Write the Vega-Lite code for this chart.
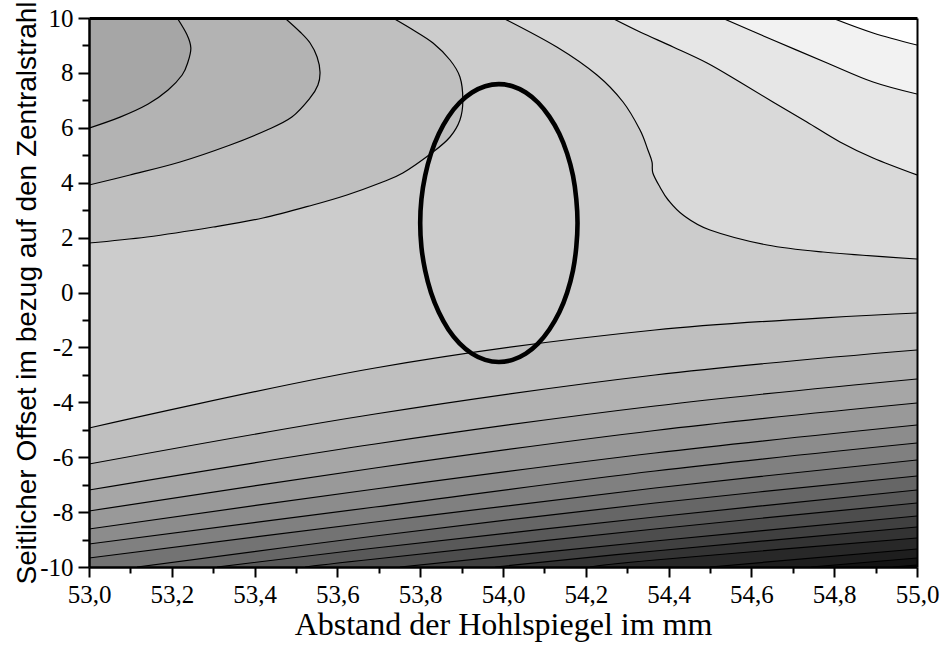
{
  "$schema": "https://vega.github.io/schema/vega-lite/v6.json",
  "width": 828,
  "height": 549,
  "autosize": "none",
  "padding": {"left": 89, "top": 18, "right": 28, "bottom": 86},
  "background": "white",
  "config": {"font": "Liberation Serif", "view": {"stroke": null, "fill": "#cccccc"}, "axis": {"grid": false, "labelFont": "Liberation Serif", "labelFontSize": 25, "labelColor": "black"}, "style": {"guide-label": {"font": "Liberation Serif", "fontSize": 25, "fill": "black"}}},
  "datasets": {
    "cont": [
      {"id":"U1","o":1,"x":53.0,"y":5.99},{"id":"U1","o":2,"x":53.075,"y":6.39},{"id":"U1","o":3,"x":53.143,"y":6.867},{"id":"U1","o":4,"x":53.191,"y":7.377},{"id":"U1","o":5,"x":53.225,"y":7.923},{"id":"U1","o":6,"x":53.239,"y":8.397},{"id":"U1","o":7,"x":53.246,"y":8.907},{"id":"U1","o":8,"x":53.237,"y":9.381},{"id":"U1","o":9,"x":53.213,"y":10},
      {"id":"U2","o":1,"x":53.0,"y":3.916},{"id":"U2","o":2,"x":53.099,"y":4.281},{"id":"U2","o":3,"x":53.22,"y":4.754},{"id":"U2","o":4,"x":53.341,"y":5.373},{"id":"U2","o":5,"x":53.43,"y":5.92},{"id":"U2","o":6,"x":53.49,"y":6.393},{"id":"U2","o":7,"x":53.534,"y":7.086},{"id":"U2","o":8,"x":53.553,"y":7.559},{"id":"U2","o":9,"x":53.558,"y":8.033},{"id":"U2","o":10,"x":53.551,"y":8.579},{"id":"U2","o":11,"x":53.534,"y":9.089},{"id":"U2","o":12,"x":53.51,"y":9.49},{"id":"U2","o":13,"x":53.473,"y":10},
      {"id":"U3","o":1,"x":53.0,"y":1.803},{"id":"U3","o":2,"x":53.14,"y":2.022},{"id":"U3","o":3,"x":53.3,"y":2.386},{"id":"U3","o":4,"x":53.42,"y":2.714},{"id":"U3","o":5,"x":53.541,"y":3.188},{"id":"U3","o":6,"x":53.623,"y":3.552},{"id":"U3","o":7,"x":53.703,"y":3.989},{"id":"U3","o":8,"x":53.758,"y":4.353},{"id":"U3","o":9,"x":53.831,"y":5.118},{"id":"U3","o":10,"x":53.872,"y":5.665},{"id":"U3","o":11,"x":53.896,"y":6.284},{"id":"U3","o":12,"x":53.903,"y":7.013},{"id":"U3","o":13,"x":53.896,"y":7.851},{"id":"U3","o":14,"x":53.872,"y":8.47},{"id":"U3","o":15,"x":53.831,"y":9.089},{"id":"U3","o":16,"x":53.783,"y":9.563},{"id":"U3","o":17,"x":53.734,"y":10},
      {"id":"R1","o":1,"x":54.0,"y":10},{"id":"R1","o":2,"x":54.13,"y":8.944},{"id":"R1","o":3,"x":54.227,"y":7.923},{"id":"R1","o":4,"x":54.29,"y":6.94},{"id":"R1","o":5,"x":54.331,"y":5.92},{"id":"R1","o":6,"x":54.35,"y":5.191},{"id":"R1","o":7,"x":54.36,"y":4.754},{"id":"R1","o":8,"x":54.362,"y":4.353},{"id":"R1","o":9,"x":54.379,"y":3.843},{"id":"R1","o":10,"x":54.399,"y":3.37},{"id":"R1","o":11,"x":54.435,"y":2.823},{"id":"R1","o":12,"x":54.5,"y":2.277},{"id":"R1","o":13,"x":54.638,"y":1.73},{"id":"R1","o":14,"x":54.773,"y":1.475},{"id":"R1","o":15,"x":55.0,"y":1.22},
      {"id":"R2","o":1,"x":54.263,"y":10},{"id":"R2","o":2,"x":54.331,"y":9.49},{"id":"R2","o":3,"x":54.411,"y":8.944},{"id":"R2","o":4,"x":54.493,"y":8.361},{"id":"R2","o":5,"x":54.572,"y":7.668},{"id":"R2","o":6,"x":54.652,"y":6.94},{"id":"R2","o":7,"x":54.734,"y":6.211},{"id":"R2","o":8,"x":54.814,"y":5.483},{"id":"R2","o":9,"x":54.894,"y":4.9},{"id":"R2","o":10,"x":55.0,"y":4.281},
      {"id":"R3","o":1,"x":54.529,"y":10},{"id":"R3","o":2,"x":54.652,"y":9.199},{"id":"R3","o":3,"x":54.783,"y":8.361},{"id":"R3","o":4,"x":54.894,"y":7.668},{"id":"R3","o":5,"x":55.0,"y":7.231},
      {"id":"R4","o":1,"x":54.795,"y":10},{"id":"R4","o":2,"x":54.894,"y":9.454},{"id":"R4","o":3,"x":55.0,"y":9.016},
      {"id":"L1","o":1,"x":53.0,"y":-4.936},{"id":"L1","o":2,"x":53.691,"y":-2.75},{"id":"L1","o":3,"x":54.367,"y":-1.366},{"id":"L1","o":4,"x":55.0,"y":-0.747},
      {"id":"L2","o":1,"x":53.0,"y":-6.248},{"id":"L2","o":2,"x":53.691,"y":-4.426},{"id":"L2","o":3,"x":54.367,"y":-3.005},{"id":"L2","o":4,"x":55.0,"y":-2.095},
      {"id":"L3","o":1,"x":53.0,"y":-7.195},{"id":"L3","o":2,"x":53.691,"y":-5.519},{"id":"L3","o":3,"x":54.367,"y":-4.135},{"id":"L3","o":4,"x":55.0,"y":-3.151},
      {"id":"L4","o":1,"x":53.0,"y":-7.96},{"id":"L4","o":2,"x":53.691,"y":-6.393},{"id":"L4","o":3,"x":54.367,"y":-5.027},{"id":"L4","o":4,"x":55.0,"y":-4.026},
      {"id":"L5","o":1,"x":53.0,"y":-8.616},{"id":"L5","o":2,"x":53.691,"y":-7.158},{"id":"L5","o":3,"x":54.367,"y":-5.847},{"id":"L5","o":4,"x":55.0,"y":-4.827},
      {"id":"L6","o":1,"x":53.0,"y":-9.162},{"id":"L6","o":2,"x":53.691,"y":-7.814},{"id":"L6","o":3,"x":54.367,"y":-6.503},{"id":"L6","o":4,"x":55.0,"y":-5.483},
      {"id":"L7","o":1,"x":53.0,"y":-9.672},{"id":"L7","o":2,"x":53.691,"y":-8.361},{"id":"L7","o":3,"x":54.367,"y":-7.122},{"id":"L7","o":4,"x":55.0,"y":-6.102},
      {"id":"L8","o":1,"x":53.116,"y":-10},{"id":"L8","o":2,"x":53.691,"y":-8.871},{"id":"L8","o":3,"x":54.367,"y":-7.668},{"id":"L8","o":4,"x":55.0,"y":-6.685},
      {"id":"L9","o":1,"x":53.309,"y":-10},{"id":"L9","o":2,"x":53.691,"y":-9.308},{"id":"L9","o":3,"x":54.367,"y":-8.179},{"id":"L9","o":4,"x":55.0,"y":-7.195},
      {"id":"L10","o":1,"x":53.522,"y":-10},{"id":"L10","o":2,"x":53.691,"y":-9.709},{"id":"L10","o":3,"x":54.367,"y":-8.616},{"id":"L10","o":4,"x":55.0,"y":-7.668},
      {"id":"L11","o":1,"x":53.751,"y":-10},{"id":"L11","o":2,"x":54.367,"y":-9.053},{"id":"L11","o":3,"x":55.0,"y":-8.142},
      {"id":"L12","o":1,"x":53.981,"y":-10},{"id":"L12","o":2,"x":54.367,"y":-9.417},{"id":"L12","o":3,"x":55.0,"y":-8.543},
      {"id":"L13","o":1,"x":54.21,"y":-10},{"id":"L13","o":2,"x":54.367,"y":-9.745},{"id":"L13","o":3,"x":55.0,"y":-8.944},
      {"id":"L14","o":1,"x":54.5,"y":-10},{"id":"L14","o":2,"x":55.0,"y":-9.344},
      {"id":"L15","o":1,"x":54.744,"y":-10},{"id":"L15","o":2,"x":55.0,"y":-9.672},
      {"id":"L16","o":1,"x":54.942,"y":-10},{"id":"L16","o":2,"x":55.0,"y":-9.927}
    ],
    "ell": [
      {"o":0,"x":54.18,"y":2.53},{"o":1,"x":54.177,"y":3.408},{"o":2,"x":54.169,"y":4.261},{"o":3,"x":54.155,"y":5.06},{"o":4,"x":54.136,"y":5.783},{"o":5,"x":54.112,"y":6.406},{"o":6,"x":54.085,"y":6.912},{"o":7,"x":54.055,"y":7.285},{"o":8,"x":54.023,"y":7.513},{"o":9,"x":53.99,"y":7.59},{"o":10,"x":53.957,"y":7.513},{"o":11,"x":53.925,"y":7.285},{"o":12,"x":53.895,"y":6.912},{"o":13,"x":53.868,"y":6.406},{"o":14,"x":53.845,"y":5.783},{"o":15,"x":53.826,"y":5.06},{"o":16,"x":53.812,"y":4.261},{"o":17,"x":53.803,"y":3.408},{"o":18,"x":53.8,"y":2.53},{"o":19,"x":53.803,"y":1.652},{"o":20,"x":53.812,"y":0.799},{"o":21,"x":53.826,"y":0.0},{"o":22,"x":53.845,"y":-0.723},{"o":23,"x":53.868,"y":-1.346},{"o":24,"x":53.895,"y":-1.852},{"o":25,"x":53.925,"y":-2.225},{"o":26,"x":53.957,"y":-2.453},{"o":27,"x":53.99,"y":-2.53},{"o":28,"x":54.023,"y":-2.453},{"o":29,"x":54.055,"y":-2.225},{"o":30,"x":54.085,"y":-1.852},{"o":31,"x":54.112,"y":-1.346},{"o":32,"x":54.136,"y":-0.723},{"o":33,"x":54.155,"y":0.0},{"o":34,"x":54.169,"y":0.799},{"o":35,"x":54.177,"y":1.652}
    ]
  },
  "layer": [
    {
      "encoding": {
        "x": {"field": "x", "type": "quantitative", "stack": null, "scale": {"domain": [53, 55], "nice": false, "zero": false},
          "axis": {"orient": "bottom", "values": [53, 53.2, 53.4, 53.6, 53.8, 54, 54.2, 54.4, 54.6, 54.8, 55], "labelExpr": "replace(format(datum.value, '.1f'), '.', ',')", "title": "Abstand der Hohlspiegel im mm", "tickSize": 10, "tickWidth": 2, "tickColor": "black", "domainColor": "black", "domainWidth": 2.5, "labelFont": "Liberation Serif", "labelFontSize": 25, "labelColor": "black", "labelPadding": 5, "labelFlush": false, "labelOverlap": false, "titleFont": "Liberation Serif", "titleFontSize": 32, "titleFontWeight": "normal", "titleColor": "black", "titlePadding": 2, "grid": false, "zindex": 1}},
        "y": {"field": "y", "type": "quantitative", "stack": null, "scale": {"domain": [-10, 10], "nice": false, "zero": false},
          "axis": {"orient": "left", "values": [-10, -8, -6, -4, -2, 0, 2, 4, 6, 8, 10], "labelExpr": "datum.value + ''", "title": "Seitlicher Offset im bezug auf den Zentralstrahl", "tickSize": 11, "tickWidth": 2, "tickColor": "black", "domainColor": "black", "domainWidth": 2.5, "labelFont": "Liberation Serif", "labelFontSize": 25, "labelColor": "black", "labelPadding": 5, "labelFlush": false, "labelOverlap": false, "titleFont": "Liberation Sans", "titleFontSize": 28, "titleFontWeight": "normal", "titleColor": "black", "titlePadding": -2, "grid": false, "zindex": 1}}
      },
      "layer": [
        {
          "data": {"name": "cont"},
          "encoding": {"y2": {"datum": -10}},
          "layer": [
            {"transform": [{"filter": "datum.id == 'L1'"}], "mark": {"type": "area", "interpolate": "cardinal", "clip": true, "color": "#bfbfbf"}},
            {"transform": [{"filter": "datum.id == 'L2'"}], "mark": {"type": "area", "interpolate": "cardinal", "clip": true, "color": "#b2b2b2"}},
            {"transform": [{"filter": "datum.id == 'L3'"}], "mark": {"type": "area", "interpolate": "cardinal", "clip": true, "color": "#a6a6a6"}},
            {"transform": [{"filter": "datum.id == 'L4'"}], "mark": {"type": "area", "interpolate": "cardinal", "clip": true, "color": "#999999"}},
            {"transform": [{"filter": "datum.id == 'L5'"}], "mark": {"type": "area", "interpolate": "cardinal", "clip": true, "color": "#8c8c8c"}},
            {"transform": [{"filter": "datum.id == 'L6'"}], "mark": {"type": "area", "interpolate": "cardinal", "clip": true, "color": "#808080"}},
            {"transform": [{"filter": "datum.id == 'L7'"}], "mark": {"type": "area", "interpolate": "cardinal", "clip": true, "color": "#737373"}},
            {"transform": [{"filter": "datum.id == 'L8'"}], "mark": {"type": "area", "interpolate": "cardinal", "clip": true, "color": "#666666"}},
            {"transform": [{"filter": "datum.id == 'L9'"}], "mark": {"type": "area", "interpolate": "cardinal", "clip": true, "color": "#595959"}},
            {"transform": [{"filter": "datum.id == 'L10'"}], "mark": {"type": "area", "interpolate": "cardinal", "clip": true, "color": "#4d4d4d"}},
            {"transform": [{"filter": "datum.id == 'L11'"}], "mark": {"type": "area", "interpolate": "cardinal", "clip": true, "color": "#404040"}},
            {"transform": [{"filter": "datum.id == 'L12'"}], "mark": {"type": "area", "interpolate": "cardinal", "clip": true, "color": "#333333"}},
            {"transform": [{"filter": "datum.id == 'L13'"}], "mark": {"type": "area", "interpolate": "cardinal", "clip": true, "color": "#282828"}},
            {"transform": [{"filter": "datum.id == 'L14'"}], "mark": {"type": "area", "interpolate": "cardinal", "clip": true, "color": "#1e1e1e"}},
            {"transform": [{"filter": "datum.id == 'L15'"}], "mark": {"type": "area", "interpolate": "cardinal", "clip": true, "color": "#141414"}},
            {"transform": [{"filter": "datum.id == 'L16'"}], "mark": {"type": "area", "interpolate": "cardinal", "clip": true, "color": "#0a0a0a"}}
          ]
        },
        {
          "data": {"name": "cont"},
          "encoding": {"y2": {"datum": 10}},
          "layer": [
            {"transform": [{"filter": "datum.id == 'R1'"}], "mark": {"type": "area", "interpolate": "cardinal", "clip": true, "color": "#d9d9d9"}},
            {"transform": [{"filter": "datum.id == 'R2'"}], "mark": {"type": "area", "interpolate": "cardinal", "clip": true, "color": "#e6e6e6"}},
            {"transform": [{"filter": "datum.id == 'R3'"}], "mark": {"type": "area", "interpolate": "cardinal", "clip": true, "color": "#f2f2f2"}},
            {"transform": [{"filter": "datum.id == 'R4'"}], "mark": {"type": "area", "interpolate": "cardinal", "clip": true, "color": "#ffffff"}}
          ]
        },
        {
          "data": {"name": "cont"},
          "encoding": {"x2": {"datum": 53}},
          "layer": [
            {"transform": [{"filter": "datum.id == 'U3'"}], "mark": {"type": "area", "orient": "horizontal", "interpolate": "cardinal", "clip": true, "color": "#bfbfbf"}},
            {"transform": [{"filter": "datum.id == 'U2'"}], "mark": {"type": "area", "orient": "horizontal", "interpolate": "cardinal", "clip": true, "color": "#b3b3b3"}},
            {"transform": [{"filter": "datum.id == 'U1'"}], "mark": {"type": "area", "orient": "horizontal", "interpolate": "cardinal", "clip": true, "color": "#a6a6a6"}}
          ]
        }
      ]
    },
    {
      "data": {"name": "cont"},
      "mark": {"type": "line", "interpolate": "cardinal", "clip": true, "color": "black", "strokeWidth": 1.2},
      "encoding": {
        "x": {"field": "x", "type": "quantitative", "scale": {"domain": [53, 55], "nice": false, "zero": false},
          "axis": {"orient": "bottom", "values": [53.1, 53.3, 53.5, 53.7, 53.9, 54.1, 54.3, 54.5, 54.7, 54.9], "tickSize": 6, "tickWidth": 2, "tickColor": "black", "labels": false, "domain": false, "title": null, "grid": false, "zindex": 1}},
        "y": {"field": "y", "type": "quantitative", "scale": {"domain": [-10, 10], "nice": false, "zero": false},
          "axis": {"orient": "left", "values": [-9, -7, -5, -3, -1, 1, 3, 5, 7, 9], "tickSize": 7, "tickWidth": 2, "tickColor": "black", "labels": false, "domain": false, "title": null, "grid": false, "zindex": 1}},
        "detail": {"field": "id", "type": "nominal"},
        "order": {"field": "o", "type": "quantitative"}
      }
    },
    {
      "data": {"name": "ell"},
      "mark": {"type": "line", "interpolate": "cardinal-closed", "clip": true, "color": "black", "strokeWidth": 4.6},
      "encoding": {
        "x": {"field": "x", "type": "quantitative", "scale": {"domain": [53, 55], "nice": false, "zero": false},
          "axis": {"orient": "top", "ticks": false, "labels": false, "domain": true, "domainColor": "black", "domainWidth": 3, "title": null, "grid": false, "zindex": 1}},
        "y": {"field": "y", "type": "quantitative", "scale": {"domain": [-10, 10], "nice": false, "zero": false},
          "axis": {"orient": "right", "ticks": false, "labels": false, "domain": true, "domainColor": "black", "domainWidth": 2, "title": null, "grid": false, "zindex": 1}},
        "order": {"field": "o", "type": "quantitative"}
      }
    }
  ],
  "resolve": {"axis": {"x": "independent", "y": "independent"}}
}
